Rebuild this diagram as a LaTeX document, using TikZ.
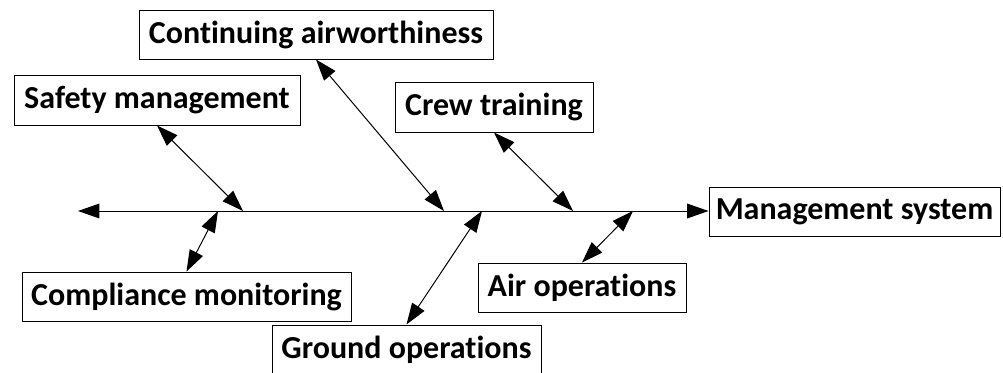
\documentclass[tikz,border=0pt]{standalone}
\usepackage{fontspec}
\setmainfont{Carlito}[Ligatures=NoCommon]
\usepackage{tikz}
\usetikzlibrary{positioning,arrows.meta}

\begin{document}
\begin{tikzpicture}[x=0.75pt,y=0.75pt,yscale=-1,xscale=1,
  cause/.style={draw,line width=0.75pt,inner sep=0pt,minimum height=36.75pt,font=\fontsize{24}{29}\selectfont\bfseries},
  bone/.style={line width=0.75pt,{Triangle[length=16pt,width=11pt]}-{Triangle[length=16pt,width=11pt]}}]
\useasboundingbox (0,0) rectangle (1003,372);

% Boxes
\node [cause,minimum width=265.5pt] (cont) at (316,34.5) {Continuing airworthiness};
\node [cause,minimum width=214.5pt,minimum height=37.5pt] (safety) at (157,100) {Safety management};
\node [cause,minimum width=148.5pt,minimum height=37.5pt] (crew) at (494,107) {Crew training};
\node [cause,minimum width=218.25pt] (mgmt) at (854.5,211.5) {Management system};
\node [cause,minimum width=246.75pt] (comp) at (186.5,296.5) {Compliance monitoring};
\node [cause,minimum width=201.75pt] (ground) at (406.5,349.5) {Ground operations};
\node [cause,minimum width=156pt] (air) at (582,287.5) {Air operations};

% Spine
\coordinate (tail) at (78,211);
\coordinate (pcomp) at (218,211);
\coordinate (psafety) at (243,211);
\coordinate (pcont) at (444,211);
\coordinate (pground) at (482,211);
\coordinate (pcrew) at (573,211);
\coordinate (pair) at (633,211);
\draw [bone] (tail) -- (mgmt.west |- tail);

% Branches
\draw [bone] (safety.south) -- (psafety);
\draw [bone] (comp.north) -- (pcomp);
\draw [bone] (cont.south) -- (pcont);
\draw [bone] (ground.north) -- (pground);
\draw [bone] (crew.south) -- (pcrew);
\draw [bone] (air.north) -- (pair);

\end{tikzpicture}
\end{document}
